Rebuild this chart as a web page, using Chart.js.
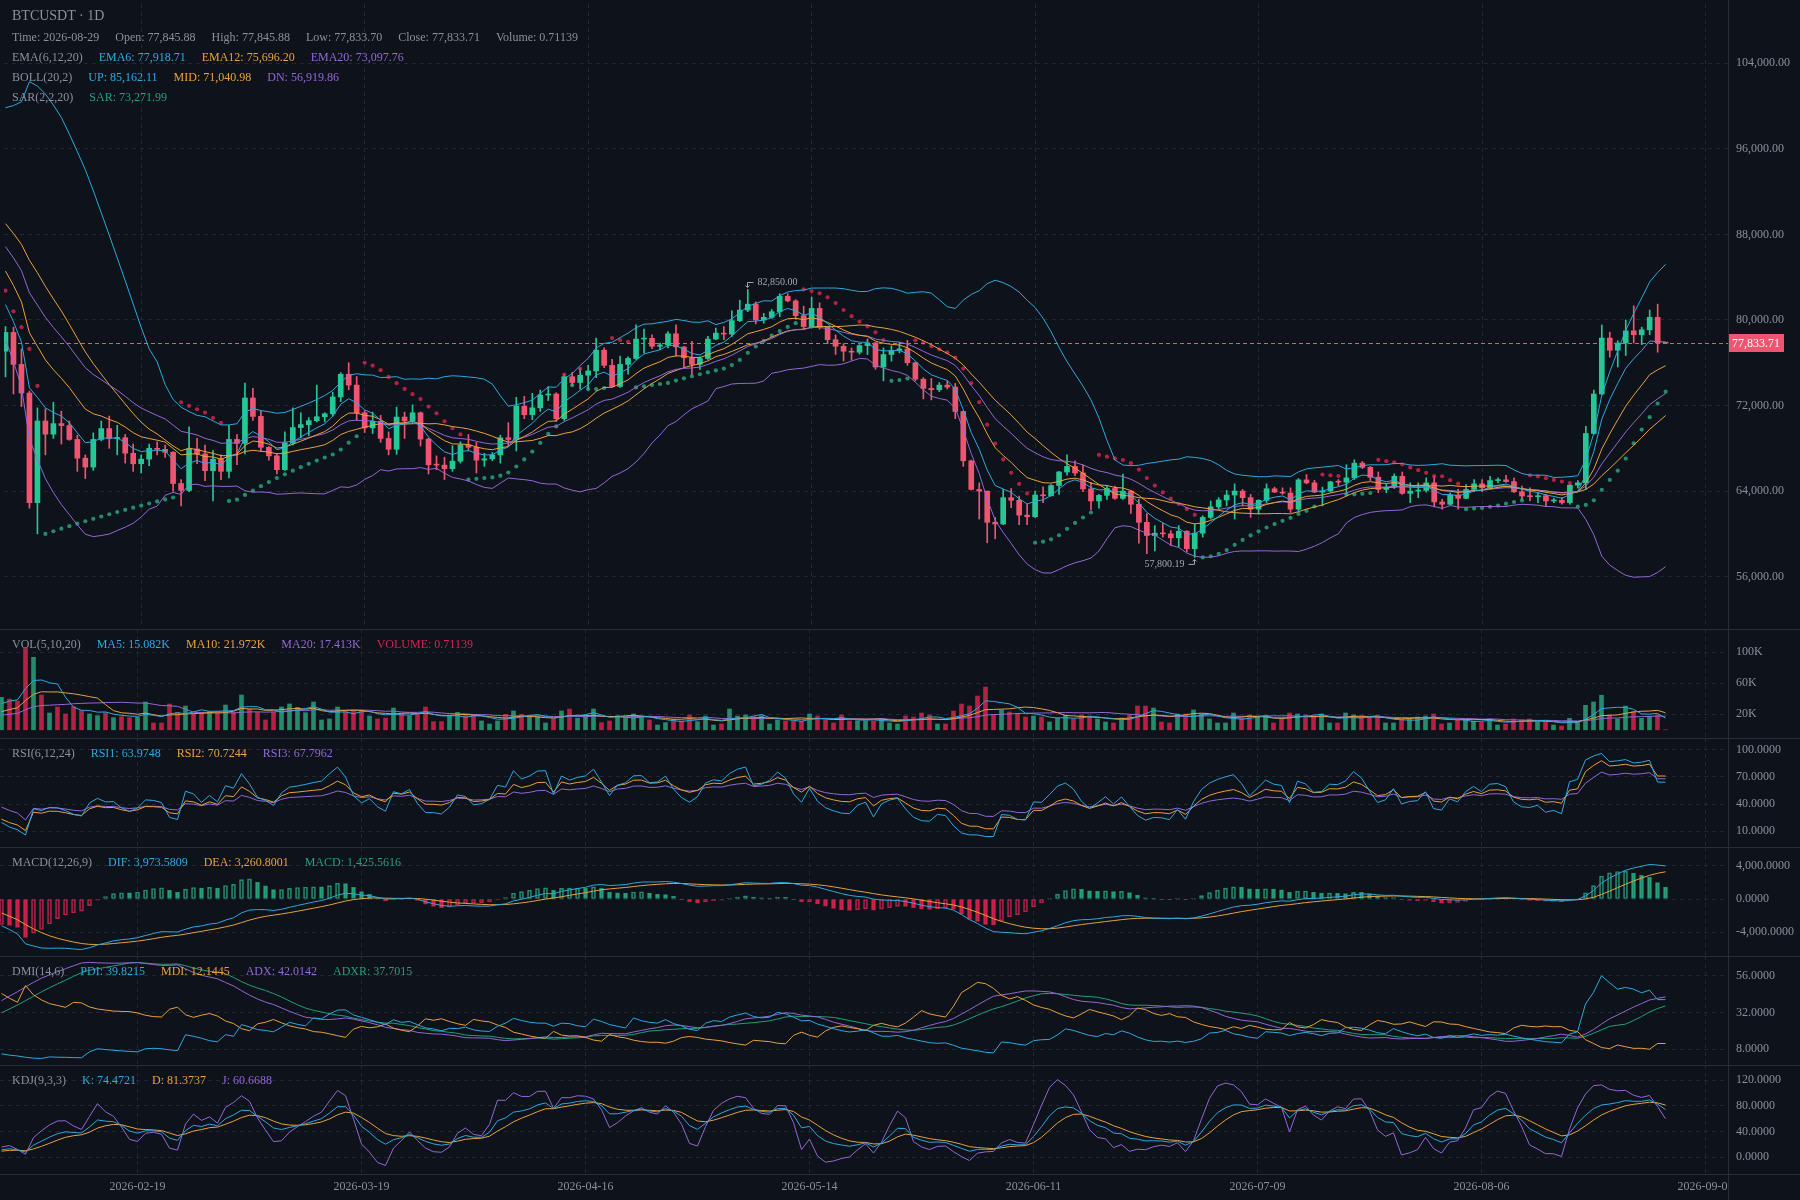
<!DOCTYPE html>
<html>
<head>
<meta charset="utf-8">
<title>BTCUSDT 1D</title>
<script src="https://cdn.jsdelivr.net/npm/chart.js@4.4.1/dist/chart.umd.min.js"></script>
<style>
  html, body { margin: 0; padding: 0; background: #0e121b; }
  #wrap { position: relative; width: 1800px; height: 1200px; overflow: hidden; background: #0e121b;
          font-family: "Liberation Serif", "Times New Roman", serif; }
  #wrap canvas { position: absolute; left: 0; }
  .hline { position: absolute; left: 0; width: 1800px; height: 1px; background: #272d39; }
  .vline { position: absolute; left: 1728px; top: 0; width: 1px; height: 1200px; background: #272d39; }
  .legend { position: absolute; left: 12px; height: 20px; line-height: 20px; font-size: 12px; color: #8a909c;
            white-space: nowrap; display: flex; gap: 16px; }
  .legend.title { font-size: 14px; }
</style>
</head>
<body>
<div id="wrap"></div>
<script>
// ===== data (daily candles, 2026-02-02 .. 2026-08-29) =====
const FIRST_DAY = "2026-02-02";
const dateTicks = ["2026-02-19", "2026-03-19", "2026-04-16", "2026-05-14", "2026-06-11", "2026-07-09", "2026-08-06", "2026-09-03"];

const openP = [
  77077, 78831, 75846, 73169, 62922, 70553, 69323, 70307, 70123, 68830,
  67077, 66246, 68830, 69846, 68923, 68990, 67538, 66554, 66984, 67999,
  67907, 67630, 64708, 64061, 67938, 67477, 65907, 66984, 65846, 68830,
  68461, 72707, 70984, 68092, 67292, 65999, 68523, 69938, 70215, 70584,
  70953, 71230, 72800, 74923, 73907, 71323, 69907, 70523, 68923, 67907,
  70923, 70554, 71323, 68861, 66461, 66431, 66092, 66800, 68307, 68092,
  66892, 67015, 67384, 68984, 68830, 71938, 71138, 71784, 72984, 73077,
  70769, 74700, 74153, 74830, 75230, 77169, 75754, 73784, 75846, 76400,
  78215, 78280, 77538, 77661, 78707, 77476, 76461, 75846, 76400, 78215,
  78769, 78677, 79938, 80923, 81476, 80000, 80246, 80769, 82215, 81784,
  80400, 79384, 81077, 79323, 78153, 77538, 77077, 76984, 77600, 77846,
  75600, 76769, 77138, 77292, 76000, 74461, 73600, 73477, 73907, 73723,
  71446, 66830, 64154, 63999, 61077, 60923, 63384, 63138, 61754, 61600,
  63630, 63560, 64523, 65784, 66307, 65692, 64200, 63077, 63600, 64246,
  63323, 63999, 62769, 61077, 59846, 60062, 60000, 59632, 60247, 58616,
  60062, 61539, 62524, 63170, 63632, 64001, 63386, 62309, 63139, 64216,
  63909, 63816, 62309, 65047, 64770, 63909, 64001, 64863, 64832, 65232,
  66616, 66217, 65293, 64155, 64370, 65386, 63786, 64001, 64063, 64770,
  62985, 62769, 63630, 63323, 64154, 64677, 64307, 64984, 65050, 64892,
  63938, 63538, 63476, 63569, 63077, 63138, 62923, 64553, 64769, 69384,
  73077, 78307, 77169, 77846, 78984, 78615, 79077, 80246, 77845.88
];
const highP = [
  79384, 79323, 77292, 73353, 71784, 71692, 72307, 71476, 70553, 69230,
  67384, 69446, 70553, 71015, 70153, 69292, 68400, 67384, 68400, 68615,
  68307, 67700, 65077, 69999, 68923, 68307, 67784, 67384, 70153, 69292,
  74092, 73600, 71446, 68150, 67500, 69538, 71784, 71323, 70861, 73907,
  71330, 73230, 75077, 75999, 74708, 71538, 71384, 71077, 69538, 71846,
  71384, 72061, 71400, 68950, 67292, 67169, 68246, 68615, 69292, 68554,
  67538, 67600, 69230, 70400, 72769, 72861, 73138, 73446, 73754, 73200,
  74900, 75100, 75446, 75754, 78307, 77384, 76307, 76615, 76553, 79538,
  79138, 78615, 77846, 78923, 79538, 77538, 77999, 76553, 78461, 79230,
  79384, 80861, 81846, 82850, 81692, 80615, 80984, 82461, 82461, 81907,
  81292, 82153, 81600, 79400, 78615, 77784, 77384, 77700, 78215, 77900,
  77384, 77600, 77907, 78092, 76062, 74615, 74523, 74153, 74307, 74061,
  71500, 66900, 64769, 64000, 61538, 64154, 64246, 63538, 62769, 64000,
  64400, 64615, 65846, 67384, 66830, 66461, 64830, 63692, 64461, 64461,
  65600, 64062, 63230, 61907, 60770, 60985, 60308, 60770, 60300, 60924,
  61693, 63078, 63386, 64062, 64678, 64155, 63693, 63200, 64678, 64370,
  64309, 64309, 65170, 65540, 65016, 64370, 64924, 65078, 66463, 66924,
  66770, 66309, 65786, 64616, 65601, 65786, 64770, 64770, 65232, 65386,
  63230, 63846, 64154, 64615, 65077, 65077, 65384, 65230, 65476, 65230,
  64461, 64307, 63846, 63692, 63323, 63384, 64615, 64984, 70061, 73446,
  79538, 78861, 78061, 80000, 81323, 79323, 80923, 81477, 77845.88
];
const lowP = [
  74677, 73077, 71907, 62399, 59999, 67384, 68923, 68400, 68750, 65846,
  65169, 65938, 68700, 67999, 67384, 66615, 65846, 65692, 66369, 67384,
  67138, 63999, 62615, 63938, 66554, 64984, 63077, 65077, 65231, 66461,
  67477, 70615, 67692, 66892, 65600, 65938, 68307, 68984, 69169, 70461,
  70461, 71015, 72369, 73477, 70615, 69477, 69384, 68554, 67384, 67446,
  68923, 70307, 68215, 65600, 66000, 65077, 65846, 66615, 67754, 65692,
  66308, 66831, 66615, 68246, 67754, 70769, 70677, 71446, 72461, 70523,
  70600, 73900, 73538, 73538, 74615, 75538, 73692, 73692, 74923, 76307,
  76923, 77323, 77230, 77384, 76615, 75630, 74923, 75384, 76307, 78153,
  78153, 78461, 79846, 80769, 79630, 79692, 80153, 80307, 81692, 80061,
  79138, 79230, 79138, 77784, 76769, 76153, 76246, 76800, 76769, 75384,
  74307, 76153, 76923, 75754, 74307, 72615, 72523, 73292, 73538, 70769,
  66307, 64092, 61384, 59169, 59538, 60861, 62461, 60861, 60861, 61538,
  62923, 63538, 63692, 65477, 65446, 63938, 62246, 62400, 63230, 63230,
  63230, 61907, 59138, 58154, 58400, 59693, 58924, 58770, 58309, 57800.19,
  59693, 61385, 62309, 62616, 61385, 62616, 61539, 61847, 62924, 63847,
  63693, 62001, 62155, 64678, 63847, 62616, 63900, 64463, 63693, 65078,
  66093, 64986, 63847, 63847, 64247, 63693, 62924, 63386, 63900, 62524,
  62307, 62700, 62307, 63300, 63938, 63938, 64200, 64769, 64800, 63846,
  63230, 63077, 62923, 62553, 62923, 62769, 62769, 64307, 64153, 69323,
  73000, 76523, 75600, 76677, 77846, 77692, 78615, 76984, 77833.70
];
const closeP = [
  78831, 75846, 73169, 62922, 70553, 69323, 70307, 70123, 68830, 67077,
  66246, 68830, 69846, 68923, 68990, 67538, 66554, 66984, 67999, 67907,
  67630, 64708, 64061, 67938, 67477, 65907, 66984, 65846, 68830, 68461,
  72707, 70984, 68092, 67292, 65999, 68523, 69938, 70215, 70584, 70953,
  71230, 72800, 74923, 73907, 71323, 69907, 70523, 68923, 67907, 70923,
  70554, 71323, 68861, 66461, 66431, 66092, 66800, 68307, 68092, 66892,
  67015, 67384, 68984, 68830, 71938, 71138, 71784, 72984, 73077, 70769,
  74700, 74153, 74830, 75230, 77169, 75754, 73784, 75846, 76400, 78215,
  78280, 77538, 77661, 78707, 77476, 76461, 75846, 76400, 78215, 78769,
  78677, 79938, 80923, 81476, 80000, 80246, 80769, 82215, 81784, 80400,
  79384, 81077, 79323, 78153, 77538, 77077, 76984, 77600, 77846, 75600,
  76769, 77138, 77292, 76000, 74461, 73600, 73477, 73907, 73723, 71446,
  66830, 64154, 63999, 61077, 60923, 63384, 63138, 61754, 61600, 63630,
  63560, 64523, 65784, 66307, 65692, 64200, 63077, 63600, 64246, 63323,
  63999, 62769, 61077, 59846, 60062, 60000, 59632, 60247, 58616, 60062,
  61539, 62524, 63170, 63632, 64001, 63386, 62309, 63139, 64216, 63909,
  63816, 62309, 65047, 64770, 63909, 64001, 64863, 64832, 65232, 66616,
  66217, 65293, 64155, 64370, 65386, 63786, 64001, 64063, 64770, 62985,
  62769, 63630, 63323, 64154, 64677, 64307, 64984, 65050, 64892, 63938,
  63538, 63476, 63569, 63077, 63138, 62923, 64553, 64769, 69384, 73077,
  78307, 77169, 77846, 78984, 78615, 79077, 80246, 77845.88, 77833.71
];
const volumes = [
  41900, 39700, 37200, 106000, 93500, 44900, 21700, 29400, 20400, 29900,
  24700, 20400, 18200, 22100, 15700, 16900, 15700, 16100, 35900, 8800,
  8800, 33300, 22500, 30700, 20000, 22500, 23400, 23400, 32000, 22500,
  44900, 26800, 22500, 12700, 22500, 29400, 33300, 29000, 22100, 35900,
  12700, 14000, 29400, 23400, 24700, 24700, 17800, 14000, 15200, 28100,
  20400, 18200, 21300, 29400, 10500, 10500, 18200, 22500, 19100, 19100,
  11400, 7500, 11400, 20000, 24300, 20000, 16900, 16900, 8800, 14000,
  24300, 26800, 15000, 17800, 26800, 9200, 11400, 18200, 16100, 20400,
  16900, 12700, 6200, 9200, 14000, 11400, 19100, 10500, 17800, 6200,
  7500, 26800, 17800, 19100, 16900, 18200, 7500, 12700, 11400, 11400,
  11400, 20400, 17800, 12700, 8800, 19100, 11400, 11400, 11400, 11400,
  14000, 8800, 7500, 17800, 16500, 21700, 19100, 7500, 7500, 24300,
  33300, 30700, 43600, 55200, 20000, 25600, 23000, 21300, 16500, 17800,
  16500, 10100, 15200, 18700, 14000, 19100, 17800, 14000, 10100, 8800,
  15200, 19100, 30700, 30700, 28100, 10100, 8800, 20400, 20400, 25600,
  20400, 14000, 8800, 8800, 21700, 15200, 19100, 16500, 17800, 8800,
  15200, 21700, 20400, 19100, 17800, 20400, 8800, 8800, 21700, 19100,
  17800, 16500, 16500, 8800, 8800, 14000, 14000, 16500, 17800, 20400,
  7500, 8800, 12700, 12700, 11400, 10100, 14000, 6200, 7500, 14000,
  12700, 14000, 10100, 10100, 6200, 4900, 14900, 10100, 31540, 35900,
  44610, 19100, 14000, 30700, 23800, 14800, 17400, 19400, 0.71139
];

// days before the left edge (not drawn), estimated from where the indicator lines enter the chart
const warmOpen = [90300, 90800, 91600, 90900, 90100, 91300, 92200, 91500, 90700, 91900, 92800, 92100, 91200, 92400, 93300, 92500, 91800, 92900, 93800, 93000,
  92200, 93400, 94300, 93500, 92700, 93900, 94600, 93700, 92900, 93800, 93100, 91800, 90700, 89600, 88300, 87100, 85800, 84500, 83000, 80900];
const warmHigh = [91200, 92100, 91900, 91500, 91750, 92600, 92700, 91800, 92500, 93250, 93200, 92600, 92700, 93900, 93750, 92900, 93400, 94100, 94400, 93450,
  93800, 94800, 94600, 94100, 94350, 95000, 95100, 94000, 94400, 94250, 93500, 92300, 91000, 90200, 88750, 87500, 86300, 84800, 83600, 81350];
const warmLow = [89850, 90450, 90350, 89700, 89600, 90850, 91150, 90150, 90300, 91400, 91650, 90850, 90650, 92000, 92000, 91350, 91450, 92350, 92600, 91700,
  91750, 93050, 92950, 92300, 92200, 93450, 93350, 92350, 92500, 92600, 91350, 90350, 89050, 87900, 86600, 85350, 84150, 82450, 80500, 76577];
const warmClose = [90800, 91600, 90900, 90100, 91300, 92200, 91500, 90700, 91900, 92800, 92100, 91200, 92400, 93300, 92500, 91800, 92900, 93800, 93000, 92200,
  93400, 94300, 93500, 92700, 93900, 94600, 93700, 92900, 93800, 93100, 91800, 90700, 89600, 88300, 87100, 85800, 84500, 83000, 80900, 77077];
const warmVol = [15200, 12800, 17500, 14100, 13300, 16800, 18200, 12400, 14900, 11700, 13800, 15600, 12200, 16400, 14500, 13100, 17900, 15300, 12600, 14200,
  16100, 18400, 13200, 12500, 15700, 14300, 13600, 16200, 12900, 13100, 15800, 11800, 14600, 12300, 13500, 11900, 24500, 28700, 33400, 41200];

// axis ticks
const priceTicks = [56000, 64000, 72000, 80000, 88000, 96000, 104000];
const volTicks = [20000, 60000, 100000];
const rsiTicks = [10, 40, 70, 100];
const macdTicks = [-4000, 0, 4000];
const dmiTicks = [8, 32, 56];
const kdjTicks = [0, 40, 80, 120];

// legend texts as shown for the last candle
const headTitle = "BTCUSDT · 1D";
const headCandle = ["Time: 2026-08-29", "Open: 77,845.88", "High: 77,845.88", "Low: 77,833.70", "Close: 77,833.71", "Volume: 0.71139"];
const headEma = ["EMA(6,12,20)", "EMA6: 77,918.71", "EMA12: 75,696.20", "EMA20: 73,097.76"];
const headBoll = ["BOLL(20,2)", "UP: 85,162.11", "MID: 71,040.98", "DN: 56,919.86"];
const headSar = ["SAR(2,2,20)", "SAR: 73,271.99"];
const headVol = ["VOL(5,10,20)", "MA5: 15.082K", "MA10: 21.972K", "MA20: 17.413K", "VOLUME: 0.71139"];
const headRsi = ["RSI(6,12,24)", "RSI1: 63.9748", "RSI2: 70.7244", "RSI3: 67.7962"];
const headMacd = ["MACD(12,26,9)", "DIF: 3,973.5809", "DEA: 3,260.8001", "MACD: 1,425.5616"];
const headDmi = ["DMI(14,6)", "PDI: 39.8215", "MDI: 12.1445", "ADX: 42.0142", "ADXR: 37.7015"];
const headKdj = ["KDJ(9,3,3)", "K: 74.4721", "D: 81.3737", "J: 60.6688"];

// ===== colours =====
const BG = "#0e121b";
const TEXT = "#8a909c";
const GRID = "#212733";
const UP = "#27c795";
const DOWN = "#ef5570";
const UP_BAR = "rgba(45,192,142,0.7)";
const DOWN_BAR = "rgba(249,40,85,0.7)";
const CYAN = "#2caae0";
const ORANGE = "#e9a23b";
const PURPLE = "#9468d6";
const GREEN = "#23a07a";

// ===== indicators =====
const W = warmClose.length;
const N = closeP.length;
const fH = warmHigh.concat(highP), fL = warmLow.concat(lowP);
const fC = warmClose.concat(closeP), fV = warmVol.concat(volumes);

function sma(a, p) {
  const out = []; let s = 0;
  for (let i = 0; i < a.length; i++) {
    s += a[i]; if (i >= p) s -= a[i - p];
    out.push(i >= p - 1 ? s / p : null);
  }
  return out;
}
function ema(a, p) {
  const out = []; let n = 0, s = 0, e = null;
  for (const v of a) {
    if (v === null) { out.push(null); continue; }
    n++;
    if (n < p) { s += v; out.push(null); }
    else if (n === p) { s += v; e = s / p; out.push(e); }
    else { e = (2 * v + (p - 1) * e) / (p + 1); out.push(e); }
  }
  return out;
}
function boll(c, p, k) {
  const mid = sma(c, p), up = [], dn = [];
  for (let i = 0; i < c.length; i++) {
    if (mid[i] === null) { up.push(null); dn.push(null); continue; }
    let v = 0;
    for (let j = i - p + 1; j <= i; j++) v += (c[j] - mid[i]) ** 2;
    const sd = Math.sqrt(v / p);
    up.push(mid[i] + k * sd); dn.push(mid[i] - k * sd);
  }
  return { mid, up, dn };
}
function sarCalc(h, l) {
  const startAf = 0.02, step = 0.02, maxAf = 0.2;
  let af = startAf, ep = -100, rising = false, sar = 0;
  const out = [];
  for (let i = 0; i < h.length; i++) {
    const pre = sar;
    if (rising) {
      if (ep === -100 || ep < h[i]) { ep = h[i]; af = Math.min(af + step, maxAf); }
      sar = pre + af * (ep - pre);
      const lowMin = Math.min(l[Math.max(1, i) - 1], l[i]);
      if (sar > l[i]) { sar = ep; af = startAf; ep = -100; rising = false; }
      else if (sar > lowMin) sar = lowMin;
    } else {
      if (ep === -100 || ep > l[i]) { ep = l[i]; af = Math.min(af + step, maxAf); }
      sar = pre + af * (ep - pre);
      const highMax = Math.max(h[Math.max(1, i) - 1], h[i]);
      if (sar < h[i]) { sar = ep; af = 0; ep = -100; rising = true; }
      else if (sar < highMax) sar = highMax;
    }
    out.push(sar);
  }
  return out;
}
// Wilder-smoothed RSI
function rsi(c, p) {
  const out = [null]; let up = null, all = null;
  for (let i = 1; i < c.length; i++) {
    const d = c[i] - c[i - 1], g = Math.max(d, 0), a = Math.abs(d);
    if (up === null) { up = g; all = a; }
    else { up = (g + (p - 1) * up) / p; all = (a + (p - 1) * all) / p; }
    out.push(all ? up / all * 100 : 0);
  }
  return out;
}
function dmi(h, l, c, n, m) {
  let trSum = 0, hSum = 0, lSum = 0, mtr = 0, dmp = 0, dmm = 0, dxSum = 0, adx = 0;
  const pdi = [], mdi = [], adxA = [], adxr = [];
  for (let i = 0; i < c.length; i++) {
    const pi = Math.max(0, i - 1);
    const tr = Math.max(h[i] - l[i], Math.abs(h[i] - c[pi]), Math.abs(c[pi] - l[i]));
    const hd = h[i] - h[pi], ld = l[pi] - l[i];
    const up = hd > 0 && hd > ld ? hd : 0, dw = ld > 0 && ld > hd ? ld : 0;
    trSum += tr; hSum += up; lSum += dw;
    let p = null, q = null, a = null, r = null;
    if (i >= n - 1) {
      if (i > n - 1) { mtr = mtr - mtr / n + tr; dmp = dmp - dmp / n + up; dmm = dmm - dmm / n + dw; }
      else { mtr = trSum; dmp = hSum; dmm = lSum; }
      p = mtr ? dmp * 100 / mtr : 0; q = mtr ? dmm * 100 / mtr : 0;
      const dx = p + q ? Math.abs(q - p) / (p + q) * 100 : 0;
      dxSum += dx;
      if (i >= n * 2 - 2) {
        adx = i > n * 2 - 2 ? (adx * (n - 1) + dx) / n : dxSum / n;
        a = adx;
        const back = adxA[i - m];
        r = (adx + (back == null ? 0 : back)) / 2;
      }
    }
    pdi.push(p); mdi.push(q); adxA.push(a); adxr.push(r);
  }
  return { pdi, mdi, adx: adxA, adxr };
}
function kdj(h, l, c, n) {
  let k = 50, d = 50;
  const K = [], D = [], J = [];
  for (let i = 0; i < c.length; i++) {
    if (i < n - 1) { K.push(null); D.push(null); J.push(null); continue; }
    let hh = -Infinity, ll = Infinity;
    for (let j = i - n + 1; j <= i; j++) { hh = Math.max(hh, h[j]); ll = Math.min(ll, l[j]); }
    const rsv = (c[i] - ll) / (hh - ll || 1) * 100;
    k = (2 * k + rsv) / 3; d = (2 * d + k) / 3;
    K.push(k); D.push(d); J.push(3 * k - 2 * d);
  }
  return { K, D, J };
}

const cut = a => a.slice(W);
const ema6 = cut(ema(fC, 6)), ema12 = cut(ema(fC, 12)), ema20 = cut(ema(fC, 20));
const bb = boll(fC, 20, 2);
const bollUp = cut(bb.up), bollMid = cut(bb.mid), bollDn = cut(bb.dn);
const sar = cut(sarCalc(fH, fL));
const volMa5 = cut(sma(fV, 5)), volMa10 = cut(sma(fV, 10)), volMa20 = cut(sma(fV, 20));
const rsi1 = cut(rsi(fC, 6)), rsi2 = cut(rsi(fC, 12)), rsi3 = cut(rsi(fC, 24));
const e12 = ema(fC, 12), e26 = ema(fC, 26);
const difF = e12.map((v, i) => (v === null || e26[i] === null) ? null : v - e26[i]);
const deaF = ema(difF, 9);
const macdF = difF.map((v, i) => (v === null || deaF[i] === null) ? null : (v - deaF[i]) * 2);
const dif = cut(difF), dea = cut(deaF), macdBar = cut(macdF);
const macdPrev = macdF.slice(W - 1, W - 1 + N);
const dm = dmi(fH, fL, fC, 14, 6);
const pdi = cut(dm.pdi), mdi = cut(dm.mdi), adx = cut(dm.adx), adxr = cut(dm.adxr);
const kd = kdj(fH, fL, fC, 9);
const kK = cut(kd.K), kD = cut(kd.D), kJ = cut(kd.J);

// ===== helpers =====
const fmt = (v, d) => v.toLocaleString("en-US", { minimumFractionDigits: d, maximumFractionDigits: d });
const DAY = 864e5;
const tickIndex = dateTicks.map(s => Math.round((Date.parse(s) - Date.parse(FIRST_DAY)) / DAY));
const X_MIN = -0.1875, X_MAX = 215.8125;   // 8 px per day across the 1728 px plot

Chart.defaults.font.family = '"Liberation Serif", "Times New Roman", serif';
Chart.defaults.font.size = 12;
Chart.defaults.color = TEXT;

const wrap = document.getElementById("wrap");
function pane(top, height) {
  const c = document.createElement("canvas");
  c.width = 1800; c.height = height;
  c.style.top = top + "px"; c.style.width = "1800px"; c.style.height = height + "px";
  wrap.appendChild(c);
  return c.getContext("2d");
}
function xAxis(showDates) {
  return {
    type: "linear", min: X_MIN, max: X_MAX, bounds: "data", offset: false,
    afterBuildTicks: s => { s.ticks = tickIndex.map(v => ({ value: v })); },
    afterFit: s => { s.height = showDates ? 26 : 0; s.paddingLeft = 0; s.paddingRight = 0; },
    grid: { color: GRID, drawTicks: false, offset: false },
    border: { display: false, dash: [4, 4] },
    ticks: {
      display: showDates, autoSkip: false, maxRotation: 0, padding: 6, color: TEXT,
      callback: v => dateTicks[tickIndex.indexOf(v)] || ""
    }
  };
}
function yAxis(min, max, ticks, format) {
  return {
    position: "right", min, max, bounds: "data", beginAtZero: false,
    afterBuildTicks: s => { s.ticks = ticks.map(v => ({ value: v })); },
    afterFit: s => { s.width = 72; s.paddingTop = 0; s.paddingBottom = 0; },
    grid: { color: GRID, drawTicks: false },
    border: { display: false, dash: [4, 4] },
    ticks: { padding: 8, color: TEXT, callback: format }
  };
}
function options(y, showDates) {
  return {
    responsive: false, animation: false, devicePixelRatio: 1, events: [],
    layout: { padding: 0 },
    plugins: { legend: { display: false }, tooltip: { enabled: false } },
    scales: { x: xAxis(showDates), y }
  };
}
const pts = a => a.map((v, i) => ({ x: i, y: v }));
function line(values, color) {
  return { type: "line", data: pts(values), borderColor: color, borderWidth: 1, pointRadius: 0, tension: 0, fill: false, order: 0 };
}

const rising = closeP.map((c, i) => c >= openP[i]);
const candleColors = rising.map(r => r ? UP : DOWN);
const barColors = rising.map(r => r ? UP_BAR : DOWN_BAR);
const sarColors = sar.map((s, i) => s < (highP[i] + lowP[i]) / 2 ? UP_BAR : DOWN_BAR);

// last price line, its label, and the highest / lowest marks
const marks = {
  id: "marks",
  afterDatasetsDraw(chart) {
    const { ctx, chartArea: a, scales: { x, y } } = chart;
    ctx.save();
    const last = closeP[N - 1];
    const col = last >= openP[N - 1] ? UP : DOWN;
    const py = Math.round(y.getPixelForValue(last)) + 0.5;
    ctx.strokeStyle = col; ctx.lineWidth = 1; ctx.setLineDash([4, 3]);
    ctx.beginPath(); ctx.moveTo(a.left, py); ctx.lineTo(a.right, py); ctx.stroke();
    ctx.setLineDash([]);
    ctx.fillStyle = col; ctx.fillRect(a.right + 1, py - 9.5, 55, 18);
    ctx.fillStyle = "#ffffff"; ctx.font = '12px "Liberation Serif"';
    ctx.textBaseline = "middle"; ctx.textAlign = "left";
    ctx.fillText(fmt(last, 2), a.right + 4, py);

    let hi = 0, lo = 0;
    highP.forEach((v, i) => { if (v > highP[hi]) hi = i; });
    lowP.forEach((v, i) => { if (v < lowP[lo]) lo = i; });
    ctx.strokeStyle = "#a3a9b4"; ctx.fillStyle = "#a3a9b4"; ctx.font = '10px "Liberation Serif"';
    const hx = Math.floor(x.getPixelForValue(hi)) + 0.5, hy = y.getPixelForValue(highP[hi]);
    ctx.beginPath(); ctx.moveTo(hx, hy - 2); ctx.lineTo(hx, hy - 7); ctx.lineTo(hx + 6, hy - 7); ctx.stroke();
    ctx.beginPath(); ctx.moveTo(hx - 2, hy - 4); ctx.lineTo(hx, hy - 2); ctx.lineTo(hx + 2, hy - 4); ctx.stroke();
    ctx.textAlign = "left"; ctx.fillText(fmt(highP[hi], 2), hx + 10, hy - 7);
    const lx = Math.floor(x.getPixelForValue(lo)) + 0.5, ly = y.getPixelForValue(lowP[lo]);
    ctx.beginPath(); ctx.moveTo(lx, ly + 2); ctx.lineTo(lx, ly + 7); ctx.lineTo(lx - 6, ly + 7); ctx.stroke();
    ctx.beginPath(); ctx.moveTo(lx - 2, ly + 4); ctx.lineTo(lx, ly + 2); ctx.lineTo(lx + 2, ly + 4); ctx.stroke();
    ctx.textAlign = "right"; ctx.fillText(fmt(lowP[lo], 2), lx - 10, ly + 7);
    ctx.restore();
  }
};

// ===== candle pane =====
new Chart(pane(0, 629), {
  type: "bar",
  data: {
    datasets: [
      line(ema6, CYAN), line(ema12, ORANGE), line(ema20, PURPLE),
      line(bollUp, CYAN), line(bollMid, ORANGE), line(bollDn, PURPLE),
      { type: "line", data: pts(sar), showLine: false, pointRadius: 2.1, pointBorderWidth: 0,
        pointBackgroundColor: sarColors, order: 0 },
      { type: "bar", data: lowP.map((v, i) => ({ x: i, y: [v, highP[i]] })), backgroundColor: candleColors,
        barThickness: 1, grouped: false, order: 2 },
      { type: "bar", data: openP.map((v, i) => ({ x: i, y: [v, closeP[i]] })), backgroundColor: candleColors,
        barThickness: 5, minBarLength: 1, grouped: false, order: 1 }
    ]
  },
  options: options(yAxis(51480, 109540, priceTicks, v => fmt(v, 2)), false),
  plugins: [marks]
});

// ===== volume =====
new Chart(pane(629, 109), {
  type: "bar",
  data: {
    datasets: [
      line(volMa5, CYAN), line(volMa10, ORANGE), line(volMa20, PURPLE),
      { type: "bar", data: pts(volumes), backgroundColor: barColors, barThickness: 4, grouped: false, order: 1 }
    ]
  },
  options: options(yAxis(-10600, 130100, volTicks, v => (v / 1000) + "K"), false)
});

// ===== RSI =====
new Chart(pane(738, 109), {
  type: "line",
  data: { datasets: [line(rsi1, CYAN), line(rsi2, ORANGE), line(rsi3, PURPLE)] },
  options: options(yAxis(-7.4, 112.8, rsiTicks, v => fmt(v, 4)), false)
});

// ===== MACD =====
const macdCol = macdBar.map(v => v >= 0 ? UP_BAR : DOWN_BAR);
const macdFill = macdBar.map((v, i) => (macdPrev[i] !== null && macdPrev[i] >= v) ? macdCol[i] : "rgba(0,0,0,0)");
new Chart(pane(847, 109), {
  type: "bar",
  data: {
    datasets: [
      line(dif, CYAN), line(dea, ORANGE),
      { type: "bar", data: pts(macdBar), backgroundColor: macdFill, borderColor: macdCol, borderWidth: 1,
        borderSkipped: false, barThickness: 4, grouped: false, order: 1 }
    ]
  },
  options: options(yAxis(-6840, 6240, macdTicks, v => fmt(v, 4)), false)
});

// ===== DMI =====
new Chart(pane(956, 109), {
  type: "line",
  data: { datasets: [line(pdi, CYAN), line(mdi, ORANGE), line(adx, PURPLE), line(adxr, GREEN)] },
  options: options(yAxis(-2.25, 68.9, dmiTicks, v => fmt(v, 4)), false)
});

// ===== KDJ + date axis =====
new Chart(pane(1065, 135), {
  type: "line",
  data: { datasets: [line(kK, CYAN), line(kD, ORANGE), line(kJ, PURPLE)] },
  options: options(yAxis(-26.2, 143.9, kdjTicks, v => fmt(v, 4)), true)
});

// ===== separators, legends =====
[629, 738, 847, 956, 1065, 1174].forEach(t => {
  const d = document.createElement("div"); d.className = "hline"; d.style.top = t + "px"; wrap.appendChild(d);
});
const cover = document.createElement("div");
cover.style.cssText = `position:absolute;left:1729px;top:1175px;width:71px;height:25px;background:${BG}`;
wrap.appendChild(cover);
const vl = document.createElement("div"); vl.className = "vline"; wrap.appendChild(vl);

function legend(top, texts, colors, cls) {
  const d = document.createElement("div");
  d.className = "legend" + (cls ? " " + cls : "");
  d.style.top = top + "px";
  texts.forEach((t, i) => {
    const s = document.createElement("span");
    s.textContent = t;
    if (colors[i]) s.style.color = colors[i];
    d.appendChild(s);
  });
  wrap.appendChild(d);
}
legend(6, [headTitle], [], "title");
legend(26.5, headCandle, []);
legend(46.5, headEma, [null, CYAN, ORANGE, PURPLE]);
legend(67, headBoll, [null, CYAN, ORANGE, PURPLE]);
legend(87, headSar, [null, GREEN]);
legend(634, headVol, [null, CYAN, ORANGE, PURPLE, "#d12552"]);
legend(743, headRsi, [null, CYAN, ORANGE, PURPLE]);
legend(852, headMacd, [null, CYAN, ORANGE, GREEN]);
legend(961, headDmi, [null, CYAN, ORANGE, PURPLE, GREEN]);
legend(1070, headKdj, [null, CYAN, ORANGE, PURPLE]);
</script>
</body>
</html>
